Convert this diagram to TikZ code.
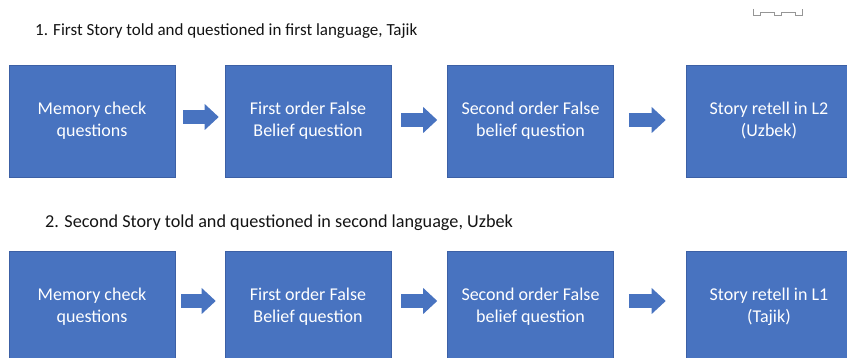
\documentclass[tikz,border=0pt]{standalone}
\usepackage{xcolor}
\usepackage{fontspec}
\setmainfont{Carlito}
\usepackage{tikz}
\usetikzlibrary{arrows.meta, positioning, calc}
\definecolor{boxblue}{RGB}{72,115,192}
\definecolor{boxedge}{RGB}{60,96,165}
\definecolor{mydark}{RGB}{20,20,20}
\definecolor{mygrey}{RGB}{150,150,150}
\tikzset{
  stepbox/.style={rectangle, draw=boxedge, fill=boxblue,
    minimum width=166pt, minimum height=112pt, inner sep=0pt,
    text=white, align=center, font=\fontsize{18}{22}\selectfont,
    line width=0.6pt},
  heading/.style={anchor=base west, inner sep=0pt, text=mydark,
    font=\fontsize{17}{20}\selectfont},
  flowarrow/.style={-{Triangle[length=14pt, width=26pt, line width=0pt]},
    line width=14pt, color=boxblue}
}

\begin{document}
\begin{tikzpicture}[x=1pt, y=-1pt]
  \useasboundingbox (0,0) rectangle (847,358);
  \clip (0,0) rectangle (847,358);

  % small grey mark, top right
  \draw[mygrey, line width=0.8pt] (753,9) -- (753,15) -- (760,15) -- (760,12) -- (774,12) -- (774,15) -- (781,15) -- (781,12) -- (795,12) -- (795,15) -- (802,15) -- (802,9);

  % First story (top row)
  \node[heading] (title1) at (35,36) {1. First Story told and questioned in first language, Tajik};
  \node[stepbox] (mem1) at (92,121) {Memory check\\questions};
  \node[stepbox] (fob1) at (308,121) {First order False\\Belief question};
  \node[stepbox] (sob1) at (530.5,121) {Second order False\\belief question};
  \node[stepbox] (ret1) at (769,121) {Story retell in L2\\(Uzbek)};
  \draw[flowarrow, shorten <=8pt, shorten >=6pt] ([yshift=4pt]mem1.east) -- ([yshift=4pt]fob1.west);
  \draw[flowarrow, shorten <=10pt, shorten >=10pt] ([yshift=1pt]fob1.east) -- ([yshift=1pt]sob1.west);
  \draw[flowarrow, shorten <=15pt, shorten >=20pt] ([yshift=1pt]sob1.east) -- ([yshift=1pt]ret1.west);

  % Second story (bottom row)
  \node[heading, font=\fontsize{18.2}{22}\selectfont] (title2) at (45,228) {2. Second Story told and questioned in second language, Uzbek};
  \node[stepbox] (mem2) at (92,307) {Memory check\\questions};
  \node[stepbox] (fob2) at (308,307) {First order False\\Belief question};
  \node[stepbox] (sob2) at (530.5,307) {Second order False\\belief question};
  \node[stepbox] (ret2) at (769,307) {Story retell in L1\\(Tajik)};
  \draw[flowarrow, shorten <=6pt, shorten >=9pt] ([yshift=6pt]mem2.east) -- ([yshift=6pt]fob2.west);
  \draw[flowarrow, shorten <=10pt, shorten >=10pt] ([yshift=6pt]fob2.east) -- ([yshift=6pt]sob2.west);
  \draw[flowarrow, shorten <=15pt, shorten >=20pt] ([yshift=6pt]sob2.east) -- ([yshift=6pt]ret2.west);
\end{tikzpicture}
\end{document}
